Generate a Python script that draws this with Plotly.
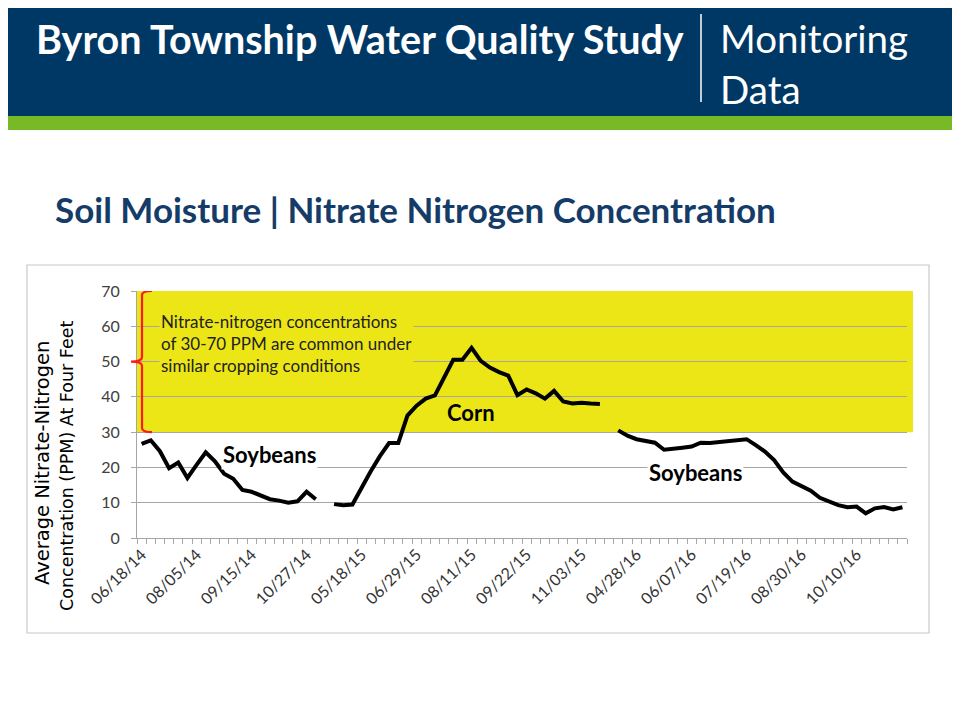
import plotly.graph_objects as go

# weekly sampling, one list per growing season (PPM)
soy_2014 = [26.7, 27.7, 24.6, 19.8, 21.4, 17.0, 20.7, 24.3, 21.7, 18.2,
            16.8, 13.6, 13.1, 12.0, 11.0, 10.6, 10.0, 10.4, 13.1, 11.0]
corn_2015 = [9.6, 9.3, 9.5, 14.5, 18.9, 23.2, 26.9, 26.9, 34.7, 37.5,
             39.5, 40.4, 45.5, 50.5, 50.5, 53.9, 50.2, 48.3, 47.0, 46.0,
             40.5, 42.1, 41.0, 39.5, 41.7, 38.7, 38.1, 38.3, 38.1, 38.0]
soy_2016 = [30.5, 29.0, 28.0, 27.6, 27.0, 25.0, 25.4, 25.6, 25.9, 27.0,
            26.9, 27.2, 27.6, 27.9, 28.0, 26.3, 24.5, 22.1, 18.6, 16.0,
            14.6, 13.4, 11.4, 10.2, 9.3, 8.7, 8.9, 7.0, 8.4, 8.8, 8.1, 8.7]
tick_labels = ['06/18/14', '08/05/14', '09/15/14', '10/27/14', '05/18/15', '06/29/15',
               '08/11/15', '09/22/15', '11/03/15', '04/28/16', '06/07/16', '07/19/16',
               '08/30/16', '10/10/16']
label_every = 6

nitrate = soy_2014 + [None] + corn_2015 + [None] + soy_2016
x = list(range(len(nitrate)))

# page size and plot box (page pixels); the browser body has an 8px margin
PAGE_W, PAGE_H, OFF = 960, 721, 8
L, R, T, B = 137, 907, 291, 538
NAVY = '#003865'
YELLOW = '#ECE617'
FONT = 'Lato'
WIDE = 'DejaVu Sans'


def px(v):
    return (v - L) / (R - L)


def py(v):
    return (B - v) / (B - T)


fig = go.Figure()
fig.add_trace(go.Scatter(x=x, y=nitrate, mode='lines', connectgaps=False,
                         line=dict(color='black', width=4), hoverinfo='skip'))

shapes = [
    # slide header, green stripe
    dict(type='rect', xref='paper', yref='paper', x0=px(0), x1=px(PAGE_W), y0=py(0), y1=py(116),
         fillcolor=NAVY, line_width=0, layer='below'),
    dict(type='rect', xref='paper', yref='paper', x0=px(0), x1=px(PAGE_W), y0=py(116), y1=py(130),
         fillcolor='#78BA26', line_width=0, layer='below'),
    dict(type='line', xref='paper', yref='paper', x0=px(701), x1=px(701), y0=py(14), y1=py(102),
         line=dict(color='white', width=1.5)),
    # chart frame
    dict(type='rect', xref='paper', yref='paper', x0=px(27), x1=px(929), y0=py(265), y1=py(633),
         line=dict(color='#C8C8C8', width=1.2), fillcolor='rgba(0,0,0,0)', layer='below'),
    # 30-70 PPM band
    dict(type='rect', xref='paper', yref='y', x0=0, x1=px(913), y0=30, y1=70,
         fillcolor=YELLOW, line_width=0, layer='below'),
    # red bracket
    dict(type='path', xref='paper', yref='y',
         path=f'M {px(152)},70 Q {px(142)},70 {px(142)},68.8 L {px(142)},51.2 '
              f'Q {px(142)},50 {px(131)},50 Q {px(142)},50 {px(142)},48.8 '
              f'L {px(142)},31.2 Q {px(142)},30 {px(152)},30',
         line=dict(color='#FF1A1A', width=2.2)),
]

annotations = [
    dict(xref='paper', yref='paper', x=px(34), y=py(38), xanchor='left', yanchor='middle',
         text='<b>Byron Township Water Quality Study</b>', showarrow=False,
         font=dict(family=FONT, size=39.5, color='white')),
    dict(xref='paper', yref='paper', x=px(718), y=py(38), xanchor='left', yanchor='middle',
         text='Monitoring', showarrow=False, font=dict(family=FONT, size=38.5, color='white')),
    dict(xref='paper', yref='paper', x=px(718), y=py(89), xanchor='left', yanchor='middle',
         text='Data', showarrow=False, font=dict(family=FONT, size=38.5, color='white')),
    dict(xref='paper', yref='paper', x=px(53), y=py(209), xanchor='left', yanchor='middle',
         text='<b>Soil Moisture | Nitrate Nitrogen Concentration</b>', showarrow=False,
         font=dict(family=FONT, size=35, color='#153C68')),
    dict(xref='paper', yref='paper', x=px(42), y=py(463), xanchor='center', yanchor='middle',
         textangle=-90, showarrow=False,
         text='Average Nitrate-Nitrogen', font=dict(family=WIDE, size=19.5, color='black')),
    dict(xref='paper', yref='paper', x=px(67), y=py(466), xanchor='center', yanchor='middle',
         textangle=-90, showarrow=False,
         text='Concentration (PPM) At Four Feet', font=dict(family=WIDE, size=17.5, color='black')),
    dict(xref='x', yref='y', x=1.95, y=64.8, xanchor='left', yanchor='top', align='left',
         showarrow=False, bgcolor=YELLOW,
         text='Nitrate-nitrogen concentrations<br>of 30-70 PPM are common under<br>similar cropping conditions',
         font=dict(family=FONT, size=17, color='#222222')),
    dict(xref='x', yref='y', x=13.9, y=23.6, showarrow=False, bgcolor='white',
         text='<b>Soybeans</b>', font=dict(family=FONT, size=22, color='black')),
    dict(xref='x', yref='y', x=35.9, y=35.6, showarrow=False,
         text='<b>Corn</b>', font=dict(family=FONT, size=22, color='black')),
    dict(xref='x', yref='y', x=60.4, y=18.5, showarrow=False, bgcolor='white',
         text='<b>Soybeans</b>', font=dict(family=FONT, size=22, color='black')),
]

fig.update_layout(
    width=PAGE_W - OFF, height=PAGE_H - OFF,
    margin=dict(l=L - OFF, r=PAGE_W - R, t=T - OFF, b=PAGE_H - B, pad=0),
    paper_bgcolor='white', plot_bgcolor='white',
    showlegend=False,
    shapes=shapes, annotations=annotations,
    font=dict(family=FONT, color='#404040'),
)
fig.update_xaxes(
    range=[-0.5, len(nitrate) - 0.5],
    tickmode='array',
    tickvals=[i * label_every for i in range(len(tick_labels))],
    ticktext=tick_labels,
    tickangle=-45, tickfont=dict(size=16, color='#333333'),
    ticks='', showgrid=False, zeroline=False,
    showline=True, linecolor='#A6A6A6', linewidth=1,
    minor=dict(tickmode='linear', tick0=-0.5, dtick=1, ticks='outside',
               ticklen=5, tickcolor='#A6A6A6', showgrid=False),
)
fig.update_yaxes(
    range=[0, 70], dtick=10, tick0=0,
    showgrid=True, gridcolor='#A6A6A6', gridwidth=1, zeroline=False,
    showline=True, linecolor='#A6A6A6', linewidth=1,
    ticks='outside', ticklen=5, tickcolor='#A6A6A6',
    ticklabelstandoff=8,
    tickfont=dict(size=16, color='#404040'),
)

fig.write_html("out.html")
